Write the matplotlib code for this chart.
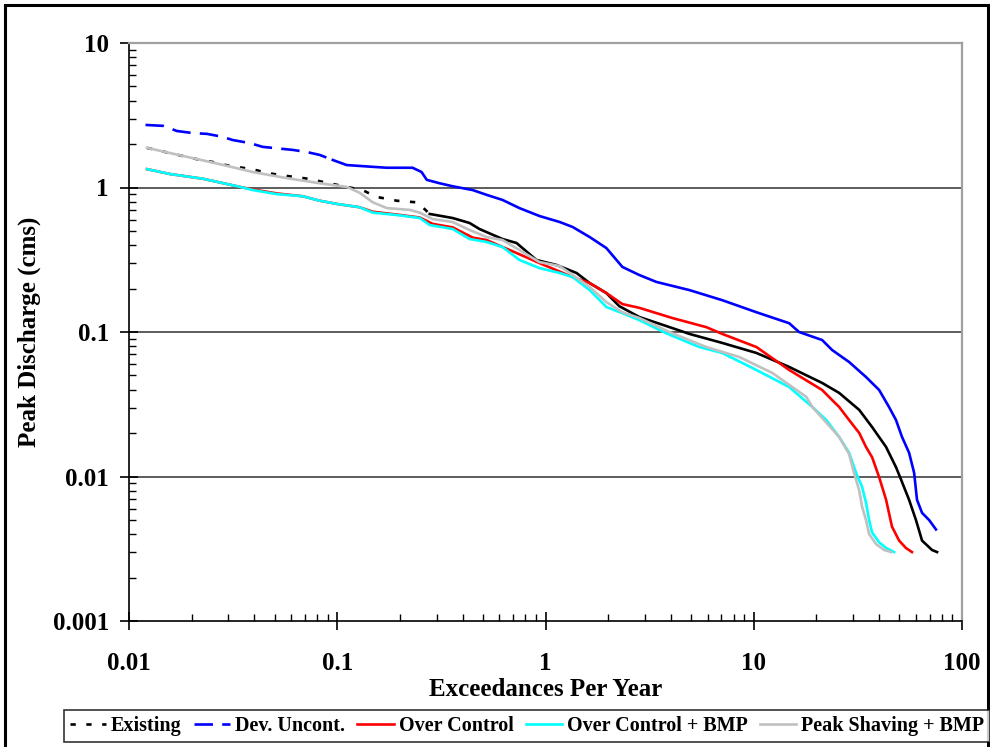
import numpy as np
import matplotlib
matplotlib.use("Agg")
import matplotlib.pyplot as plt
from matplotlib.patches import Rectangle
from matplotlib.ticker import LogLocator, NullFormatter, FixedLocator, FixedFormatter

# --- data (exceedances per year, peak discharge cms) ---
existing_x = [0.0122, 0.0212, 0.0253, 0.0305, 0.0389, 0.0464, 0.053, 0.0722, 0.111, 0.132,
              0.155, 0.193, 0.240, 0.257, 0.278, 0.358, 0.432, 0.482, 0.622, 0.726,
              0.905, 1.13, 1.41, 1.63, 1.96, 2.26, 2.82, 3.80, 4.91, 7.06,
              10.3, 14.8, 21.3, 25.7, 32.1, 37.0, 43.2, 48.2, 51.0, 55.7,
              60.1, 64.3, 71.8, 75.9]
existing_y = [1.88, 1.57, 1.50, 1.41, 1.34, 1.26, 1.22, 1.15, 1.01, 0.96,
              0.86, 0.81, 0.79, 0.73, 0.656, 0.615, 0.568, 0.516, 0.44, 0.413,
              0.315, 0.291, 0.256, 0.218, 0.186, 0.151, 0.127, 0.110, 0.097, 0.084,
              0.0716, 0.0573, 0.0444, 0.0379, 0.0289, 0.022, 0.016, 0.0116, 0.0095, 0.0069,
              0.005, 0.0036, 0.0031, 0.003]

dev_x = [0.012, 0.0146, 0.017, 0.0203, 0.0237, 0.0282, 0.0315, 0.038, 0.0439, 0.0612,
         0.0714, 0.0824, 0.0952, 0.111, 0.148, 0.173, 0.230, 0.254, 0.269, 0.310,
         0.358, 0.447, 0.521, 0.622, 0.750, 0.935, 1.17, 1.35, 1.63, 1.96,
         2.34, 2.82, 3.41, 4.91, 7.06, 10.3, 14.8, 16.5, 21.3, 23.8,
         28.7, 34.6, 40.0, 44.6, 48.2, 51.5, 55.7, 58.9, 60.8, 64.3,
         69.5, 75.0]
dev_y = [2.71, 2.67, 2.46, 2.38, 2.35, 2.24, 2.13, 2.03, 1.91, 1.82,
         1.76, 1.68, 1.55, 1.43, 1.39, 1.37, 1.37, 1.28, 1.13, 1.07,
         1.02, 0.96, 0.89, 0.82, 0.72, 0.635, 0.577, 0.533, 0.454, 0.381,
         0.282, 0.248, 0.222, 0.195, 0.166, 0.137, 0.115, 0.100, 0.088, 0.075,
         0.062, 0.0488, 0.0397, 0.0303, 0.0246, 0.0188, 0.0146, 0.0106, 0.0069, 0.0056,
         0.005, 0.0043]

over_x = [0.0122, 0.0157, 0.0226, 0.0341, 0.0393, 0.0513, 0.0683, 0.0824, 0.0995, 0.128,
          0.148, 0.193, 0.249, 0.287, 0.358, 0.447, 0.521, 0.750, 0.935, 1.35,
          1.63, 1.96, 2.34, 2.82, 4.06, 5.92, 7.06, 10.3, 14.8, 21.3,
          23.8, 25.7, 28.7, 32.1, 34.6, 37.0, 40.0, 43.2, 46.1, 49.9,
          53.8, 57.5]
over_y = [1.34, 1.24, 1.15, 1.01, 0.97, 0.91, 0.87, 0.81, 0.77, 0.73,
          0.68, 0.65, 0.62, 0.56, 0.53, 0.45, 0.433, 0.345, 0.30, 0.24,
          0.218, 0.186, 0.156, 0.147, 0.125, 0.108, 0.097, 0.0787, 0.0546, 0.0397,
          0.0338, 0.0303, 0.0246, 0.02, 0.016, 0.0136, 0.0099, 0.0069, 0.0045, 0.0036,
          0.0032, 0.003]

bmp_x = [0.0122, 0.0157, 0.0226, 0.0341, 0.0393, 0.0513, 0.0683, 0.0824, 0.0995, 0.128,
         0.148, 0.193, 0.249, 0.278, 0.358, 0.432, 0.521, 0.622, 0.750, 0.935,
         1.17, 1.35, 1.63, 1.96, 2.34, 2.82, 3.80, 4.91, 5.48, 7.06,
         10.3, 14.8, 19.1, 22.3, 25.7, 28.7, 31.0, 33.1, 34.6, 35.8,
         37.0, 40.0, 43.2, 47.2]
bmp_y = [1.34, 1.24, 1.15, 1.01, 0.96, 0.90, 0.87, 0.81, 0.77, 0.73,
         0.67, 0.645, 0.615, 0.55, 0.516, 0.44, 0.42, 0.387, 0.315, 0.277,
         0.256, 0.24, 0.195, 0.149, 0.135, 0.121, 0.098, 0.084, 0.0787, 0.0716,
         0.0546, 0.0416, 0.0303, 0.0246, 0.0188, 0.0146, 0.0106, 0.0085, 0.0066, 0.005,
         0.0041, 0.0035, 0.0032, 0.003]

peak_x = [0.0122, 0.019, 0.0273, 0.0393, 0.0573, 0.0824, 0.111, 0.128, 0.148, 0.173,
          0.223, 0.249, 0.287, 0.358, 0.432, 0.521, 0.622, 0.750, 0.935, 1.17,
          1.35, 1.63, 1.96, 2.34, 2.82, 4.06, 5.92, 8.51, 12.3, 17.9,
          19.1, 25.7, 28.7, 30.3, 32.1, 33.1, 34.6, 35.8, 38.7, 42.3,
          45.6]
peak_y = [1.88, 1.63, 1.45, 1.28, 1.16, 1.07, 1.01, 0.92, 0.79, 0.72,
          0.70, 0.67, 0.605, 0.577, 0.508, 0.454, 0.433, 0.369, 0.305, 0.286,
          0.248, 0.205, 0.161, 0.137, 0.125, 0.098, 0.0787, 0.0672, 0.052, 0.0355,
          0.0303, 0.0188, 0.0143, 0.0106, 0.008, 0.0062, 0.005, 0.004, 0.0034, 0.0031,
          0.003]

labels = ["Existing", "Dev. Uncont.", "Over Control", "Over Control + BMP", "Peak Shaving + BMP"]
colors = ["black", "#0000FF", "#FF0000", "#00FFFF", "#C0C0C0"]
# dashed part of a series ends here (the dense part of the curve looks solid)
existing_dash_end = 0.278
dev_dash_end = 0.0952

x_ticks = [0.01, 0.1, 1, 10, 100]
x_tick_labels = ["0.01", "0.1", "1", "10", "100"]
y_ticks = [0.001, 0.01, 0.1, 1, 10]
y_tick_labels = ["0.001", "0.01", "0.1", "1", "10"]

plt.rcParams["font.family"] = ["Liberation Serif", "DejaVu Serif"]
plt.rcParams["font.weight"] = "bold"

fig = plt.figure(figsize=(9.90, 7.47), dpi=100)
ax = fig.add_axes([129 / 990, 1 - 621 / 747, (962 - 129) / 990, (621 - 43) / 747])

lw = 1.9


def split_plot(xs, ys, split, color, dashes, label):
    xs = np.array(xs)
    ys = np.array(ys)
    k = int(np.searchsorted(xs, split))
    ax.plot(xs[:k + 1], ys[:k + 1], color=color, lw=lw, dashes=dashes, label=label)
    ax.plot(xs[k:], ys[k:], color=color, lw=lw)


split_plot(existing_x, existing_y, existing_dash_end, colors[0], (2.0, 4.0), labels[0])
split_plot(dev_x, dev_y, dev_dash_end, colors[1], (7.0, 3.5), labels[1])
ax.plot(over_x, over_y, color=colors[2], lw=lw, label=labels[2])
ax.plot(bmp_x, bmp_y, color=colors[3], lw=lw, label=labels[3])
ax.plot(peak_x, peak_y, color=colors[4], lw=lw, label=labels[4])

ax.set_xscale("log")
ax.set_yscale("log")
ax.set_xlim(0.01, 100)
ax.set_ylim(0.001, 10)

ax.xaxis.set_major_locator(FixedLocator(x_ticks))
ax.xaxis.set_major_formatter(FixedFormatter(x_tick_labels))
ax.yaxis.set_major_locator(FixedLocator(y_ticks))
ax.yaxis.set_major_formatter(FixedFormatter(y_tick_labels))
ax.xaxis.set_minor_locator(LogLocator(base=10, subs=np.arange(2, 10), numticks=20))
ax.yaxis.set_minor_locator(LogLocator(base=10, subs=np.arange(2, 10), numticks=20))
ax.xaxis.set_minor_formatter(NullFormatter())
ax.yaxis.set_minor_formatter(NullFormatter())

ax.tick_params(which="major", direction="inout", length=13, width=1.2, labelsize=18, color="black")
ax.tick_params(axis="x", which="major", pad=16)
ax.tick_params(axis="y", which="major", pad=8)
ax.tick_params(which="minor", direction="in", length=5, width=1.0, color="black")

for y in [0.01, 0.1, 1]:
    ax.axhline(y, color="#303030", lw=1.1, zorder=0.5)

ax.spines["left"].set_linewidth(1.2)
ax.spines["bottom"].set_linewidth(1.2)
ax.spines["top"].set_color("#A0A0A0")
ax.spines["right"].set_color("#A0A0A0")
ax.spines["top"].set_linewidth(1.6)
ax.spines["right"].set_linewidth(1.6)

ax.set_xlabel("Exceedances Per Year", fontsize=18, fontweight="bold", labelpad=2)
ax.set_ylabel("Peak Discharge (cms)", fontsize=18, fontweight="bold", labelpad=8)

leg = fig.legend(loc="center", bbox_to_anchor=(527 / 990, 1 - 726 / 747), ncol=5,
                 frameon=True, fancybox=False, edgecolor="black",
                 handlelength=1.8, handletextpad=0.25, columnspacing=0.6,
                 borderpad=0.3, borderaxespad=0.0, prop={"weight": "bold", "size": 14.5})
leg.get_frame().set_linewidth(1.2)

# outer border of the chart
fig.add_artist(Rectangle((5 / 990, -0.01), 983 / 990, 1 - 5 / 747 + 0.01, transform=fig.transFigure,
                         fill=False, edgecolor="black", lw=2.2))

fig.savefig("out.png", dpi=100)
